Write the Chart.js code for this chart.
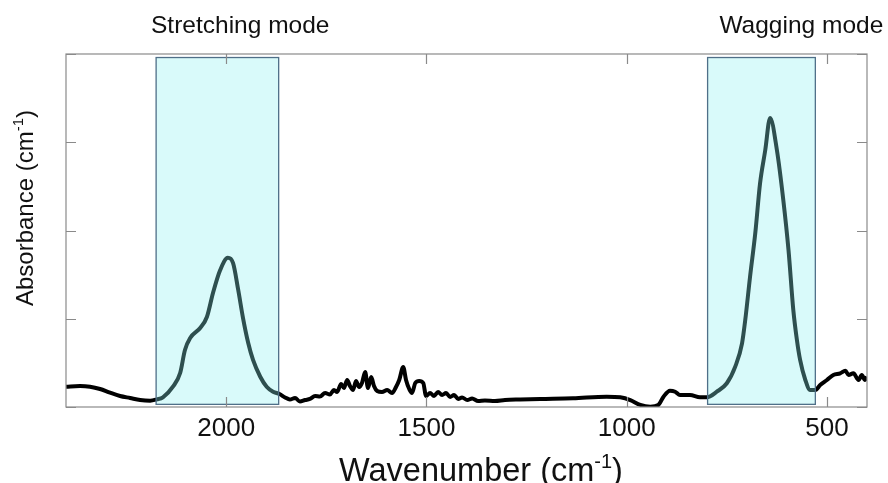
<!DOCTYPE html>
<html>
<head>
<meta charset="utf-8">
<script src="https://cdn.jsdelivr.net/npm/chart.js@4.4.1/dist/chart.umd.min.js"></script>
<style>
  html, body { margin: 0; padding: 0; background: #fff; }
  .chart-container { position: relative; width: 888px; height: 483px; }
</style>
</head>
<body>
<div class="chart-container">
  <canvas id="irChart" width="888" height="483"></canvas>
</div>
<script>
// Spectrum (wavenumber in cm-1, absorbance in arbitrary units)
const wavenumbers = [
  2400, 2365, 2340, 2315, 2290, 2265, 2240, 2215, 2190, 2173, 2158, 2133, 2115, 2103, 2090,
  2065, 2048, 2033, 2015, 1996, 1983, 1970, 1958, 1945, 1933, 1915, 1899, 1883, 1867, 1853,
  1841, 1828, 1816, 1803, 1791, 1778, 1766, 1753, 1741, 1731, 1723, 1713, 1706, 1698, 1691,
  1683, 1676, 1668, 1661, 1653, 1646, 1638, 1631, 1623, 1611, 1598, 1586, 1576, 1568, 1558,
  1551, 1543, 1536, 1528, 1518, 1508, 1501, 1491, 1481, 1471, 1461, 1451, 1441, 1431, 1421,
  1411, 1398, 1386, 1371, 1354, 1329, 1304, 1266, 1216, 1134, 1050, 1016, 991, 966, 941,
  921, 908, 892, 879, 867, 842, 817, 800, 775, 750, 729, 712, 704, 692, 679,
  667, 654, 642, 625, 609, 596, 584, 575, 567, 554, 542, 529, 517, 500, 484,
  467, 454, 446, 434, 421, 413, 405, 400
];
const absorbance = [
  0.23, 0.238, 0.23, 0.204, 0.162, 0.125, 0.102, 0.079, 0.071, 0.087, 0.11, 0.23, 0.385, 0.646, 0.782,
  0.895, 1.023, 1.292, 1.552, 1.69, 1.632, 1.326, 1.008, 0.725, 0.533, 0.343, 0.23, 0.173, 0.147, 0.108,
  0.085, 0.102, 0.062, 0.079, 0.091, 0.125, 0.119, 0.159, 0.142, 0.193, 0.17, 0.261, 0.215, 0.306, 0.238,
  0.193, 0.295, 0.227, 0.272, 0.397, 0.215, 0.34, 0.238, 0.181, 0.17, 0.193, 0.159, 0.227, 0.306, 0.453,
  0.306, 0.204, 0.159, 0.272, 0.295, 0.272, 0.125, 0.159, 0.125, 0.17, 0.136, 0.159, 0.113, 0.136, 0.091,
  0.108, 0.079, 0.096, 0.068, 0.074, 0.068, 0.079, 0.085, 0.091, 0.099, 0.117, 0.11, 0.079, 0.023, 0.003,
  0.023, 0.117, 0.185, 0.173, 0.136, 0.136, 0.11, 0.11, 0.173, 0.269, 0.457, 0.722, 0.986, 1.476, 1.968,
  2.535, 2.912, 3.275, 2.912, 2.346, 1.779, 1.099, 0.759, 0.533, 0.306, 0.193, 0.193, 0.249, 0.306, 0.363,
  0.382, 0.411, 0.363, 0.382, 0.306, 0.363, 0.306, 0.343
];

// Highlighted bands
const modeNames = ['Stretching mode', 'Wagging mode'];
const bandStart = [2175, 798];
const bandEnd = [1869, 529];

// Axis ticks
const xTicks = [2000, 1500, 1000, 500];
const yTicks = [0, 1, 2, 3, 4];

const FONT = "'Liberation Sans', Arial, sans-serif";

// draws frame, inward ticks, tick labels, shaded bands, labels and axis titles
const decorPlugin = {
    id: 'decor',
    afterDatasetsDraw(chart, args, opts) {
        const { ctx, chartArea: a, scales } = chart;
        const x = scales.x, y = scales.y;

        // shaded bands (drawn over the curve, semi transparent)
        ctx.save();
        bandStart.forEach((s, i) => {
            const x1 = x.getPixelForValue(s);
            const x2 = x.getPixelForValue(bandEnd[i]);
            const yt = y.getPixelForValue(opts.bandTop);
            const yb = y.getPixelForValue(opts.bandBottom);
            ctx.fillStyle = 'rgba(141, 240, 240, 0.33)';
            ctx.fillRect(x1, yt, x2 - x1, yb - yt);
            ctx.strokeStyle = '#4f6f88';
            ctx.lineWidth = 1.3;
            ctx.strokeRect(x1, yt, x2 - x1, yb - yt);
        });
        ctx.restore();

        // frame
        ctx.save();
        ctx.strokeStyle = '#8a8a8a';
        ctx.lineWidth = 1.2;
        ctx.strokeRect(a.left, a.top, a.right - a.left, a.bottom - a.top);
        const tl = 10;
        ctx.beginPath();
        xTicks.forEach(v => {
            const px = Math.round(x.getPixelForValue(v)) + 0.5;
            ctx.moveTo(px, a.bottom); ctx.lineTo(px, a.bottom - tl);
            ctx.moveTo(px, a.top); ctx.lineTo(px, a.top + tl);
        });
        yTicks.forEach(v => {
            const py = Math.round(y.getPixelForValue(v)) + 0.5;
            ctx.moveTo(a.left, py); ctx.lineTo(a.left + tl, py);
            ctx.moveTo(a.right, py); ctx.lineTo(a.right - tl, py);
        });
        ctx.stroke();
        ctx.restore();

        // x tick labels
        ctx.save();
        ctx.fillStyle = '#111';
        ctx.font = '26px ' + FONT;
        ctx.textAlign = 'center';
        ctx.textBaseline = 'alphabetic';
        xTicks.forEach(v => {
            ctx.fillText(String(v), x.getPixelForValue(v), a.bottom + 29);
        });
        ctx.restore();
    },
    afterDraw(chart, args, opts) {
        const { ctx, scales } = chart;
        const x = scales.x;

        ctx.save();
        ctx.fillStyle = '#111';
        ctx.textBaseline = 'alphabetic';
        ctx.textAlign = 'center';
        ctx.font = '24.5px ' + FONT;
        modeNames.forEach((name, i) => {
            ctx.fillText(name, x.getPixelForValue(opts.labelAt[i]), 33);
        });
        ctx.restore();

        // title with superscript "-1"
        function unitTitle(main, size, cx, cy, rotate) {
            ctx.save();
            ctx.translate(cx, cy);
            if (rotate) ctx.rotate(-Math.PI / 2);
            ctx.fillStyle = '#111';
            ctx.textAlign = 'left';
            ctx.textBaseline = 'alphabetic';
            const big = size + 'px ' + FONT;
            const small = Math.round(size * 0.62) + 'px ' + FONT;
            ctx.font = big;
            const w1 = ctx.measureText(main).width;
            const w3 = ctx.measureText(')').width;
            ctx.font = small;
            const w2 = ctx.measureText('-1').width;
            let px = -(w1 + w2 + w3) / 2;
            ctx.font = big;
            ctx.fillText(main, px, 0);
            px += w1;
            ctx.font = small;
            ctx.fillText('-1', px, -size * 0.4);
            px += w2;
            ctx.font = big;
            ctx.fillText(')', px, 0);
            ctx.restore();
        }
        unitTitle('Wavenumber (cm', 32.5, 481, 481, false);
        unitTitle('Absorbance (cm', 24, 33, 208, true);
    }
};

const points = wavenumbers.map((w, i) => ({ x: w, y: absorbance[i] }));

const ctx = document.getElementById('irChart').getContext('2d');
const irChart = new Chart(ctx, {
    type: 'line',
    data: {
        datasets: [{
            data: points,
            borderColor: '#000',
            borderWidth: 4,
            pointRadius: 0,
            cubicInterpolationMode: 'monotone',
            fill: false
        }]
    },
    options: {
        responsive: false,
        animation: false,
        events: [],
        layout: { padding: { left: 66, right: 21, top: 54, bottom: 0 } },
        plugins: {
            legend: { display: false },
            tooltip: { enabled: false },
            title: { display: false },
            decor: { bandTop: 3.96, bandBottom: 0.03, labelAt: [1965, 564] }
        },
        scales: {
            x: {
                type: 'linear',
                reverse: true,
                min: 400,
                max: 2400,
                grid: { display: false, drawTicks: false },
                border: { display: false },
                afterFit: function(scale) { scale.height = 76; },
                ticks: { display: false }
            },
            y: {
                display: false,
                min: 0,
                max: 4
            }
        }
    },
    plugins: [decorPlugin]
});
</script>
</body>
</html>
